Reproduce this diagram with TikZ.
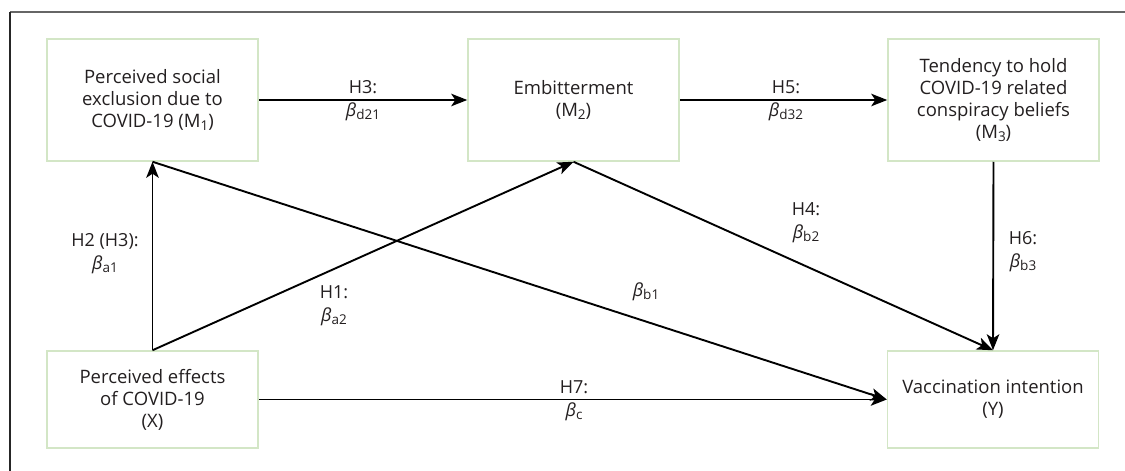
\documentclass[tikz,border=0pt]{standalone}
\usepackage{fontspec}
\setmainfont{Open Sans}
\usetikzlibrary{arrows.meta}
\definecolor{boxgreen}{HTML}{D3E6C6}
\definecolor{txt}{HTML}{231F20}
\newcommand\lowsub[1]{\raisebox{-0.3ex}{\fontsize{13.5}{13.5}\selectfont #1}}
\newcommand\bet[1]{\textit{β}\lowsub{#1}}
\tikzset{
  varbox/.style={draw=boxgreen, line width=1.5pt, minimum width=211pt, inner sep=0pt,
    align=center, text=txt, font=\fontsize{18.5}{22}\selectfont},
  tallbox/.style={varbox, minimum height=122pt},
  lowbox/.style={varbox, minimum height=97pt},
  path/.style={draw=black, line width=1.9pt, -{Stealth[length=16pt,width=12.5pt,inset=4pt]}},
  lab/.style={align=center, text=txt, inner sep=0pt, font=\fontsize{18}{23}\selectfont}
}
\begin{document}
\begin{tikzpicture}[x=1pt,y=-1pt]
\useasboundingbox (0,0) rectangle (1125,471);
\draw[color=black!60, line width=1.5pt] (10,12) -- (1125,12);
\draw[color=black!85, line width=1.2pt] (10,12) -- (10,471);

\node[tallbox] (m1) at (152.5,100) {Perceived social\\exclusion due to\\COVID-19 (M\lowsub{1})};
\node[tallbox] (m2) at (573.5,100) {Embitterment\\(M\lowsub{2})};
\node[tallbox] (m3) at (993.5,100) {Tendency to hold\\COVID-19 related\\conspiracy beliefs\\(M\lowsub{3})};
\node[lowbox] (x) at (152.5,399.5) {Perceived effects\\of COVID-19\\(X)};
\node[lowbox] (y) at (993,399.5) {Vaccination intention\\(Y)};

\draw[path] (m1.east) -- (m2.west);
\draw[path] (m2.east) -- (m3.west);
\draw[path] (x.north) -- (m1.south);
\draw[path] (x.north) -- (m2.south);
\draw[path] (m1.south) -- (y.west);
\draw[path] (m2.south) -- (y.north);
\draw[path] (m3.south) -- (y.north);
\draw[path] (x.east) -- (y.west);

\node[lab] (l3) at (363,101) {H3:\\\bet{d21}};
\node[lab] (l5) at (786,101) {H5:\\\bet{d32}};
\node[lab] (l2) at (105,254) {H2 (H3):\\\bet{a1}};
\node[lab] (l1) at (334,306) {H1:\\\bet{a2}};
\node[lab] (lb1) at (646,292) {\bet{b1}};
\node[lab] (l4) at (806,223) {H4:\\\bet{b2}};
\node[lab] (l6) at (1023,252) {H6:\\\bet{b3}};
\node[lab] (l7) at (574,401) {H7:\\\bet{c}};
\end{tikzpicture}
\end{document}
